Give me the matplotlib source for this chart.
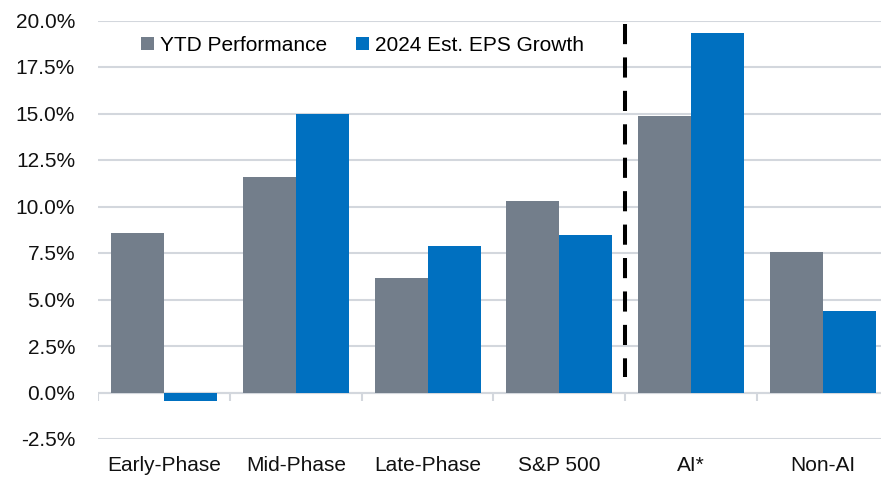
import numpy as np
import matplotlib.pyplot as plt

categories = ["Early-Phase", "Mid-Phase", "Late-Phase", "S&P 500", "AI*", "Non-AI"]
ytd_perf = [8.55, 11.6, 6.15, 10.3, 14.85, 7.55]
eps_growth = [-0.45, 14.95, 7.88, 8.47, 19.35, 4.38]
y_ticks = [-2.5, 0.0, 2.5, 5.0, 7.5, 10.0, 12.5, 15.0, 17.5, 20.0]

GRAY = "#737e8b"
BLUE = "#0070c0"
GRID = "#d3d7dd"

plt.rcParams["font.family"] = ["Liberation Sans", "DejaVu Sans"]

fig = plt.figure(figsize=(8.81, 4.8), dpi=100)
ax = fig.add_axes([98 / 881, 1 - 439 / 480, 791 / 881, (439 - 20.5) / 480])

x = np.arange(len(categories))
w = 0.402
ax.bar(x - w / 2, ytd_perf, w, color=GRAY, label="YTD Performance", zorder=3)
ax.bar(x + w / 2, eps_growth, w, color=BLUE, label="2024 Est. EPS Growth", zorder=3)

ax.set_xlim(-0.5, len(categories) - 0.5)
ax.set_ylim(y_ticks[0], y_ticks[-1])
ax.set_yticks(y_ticks)
ax.set_yticklabels([f"{t:.1f}%" for t in y_ticks])
ax.set_xticks(x)
ax.set_xticklabels(categories)

ax.grid(axis="y", color=GRID, linewidth=1.5, zorder=0)
for s in ax.spines.values():
    s.set_visible(False)
ax.axhline(0, color=GRID, linewidth=1.5, zorder=2)

# category separators hanging below the zero line
bounds = np.arange(len(categories) + 1) - 0.5
ax.vlines(bounds, -0.45, 0, color=GRID, linewidth=1.5, zorder=2)

ax.tick_params(axis="both", length=0, labelsize=15, labelcolor="#111111")
ax.tick_params(axis="y", pad=16.5)
ax.tick_params(axis="x", pad=12)

# AI split marker, drawn top-down so the dash pattern starts at the top
split = categories.index("AI*") - 0.5
ax.plot([split, split], [19.8, 0.85], color="black", linewidth=2.9,
        linestyle=(0, (5, 3.3)), solid_capstyle="butt", zorder=4)

ax.legend(loc="upper left", bbox_to_anchor=(0.035, 1.0), ncol=2, frameon=False,
          fontsize=15, handlelength=0.6, handleheight=0.6, handletextpad=0.3,
          columnspacing=1.4, borderaxespad=0.35)

fig.savefig("out.png", dpi=100)
